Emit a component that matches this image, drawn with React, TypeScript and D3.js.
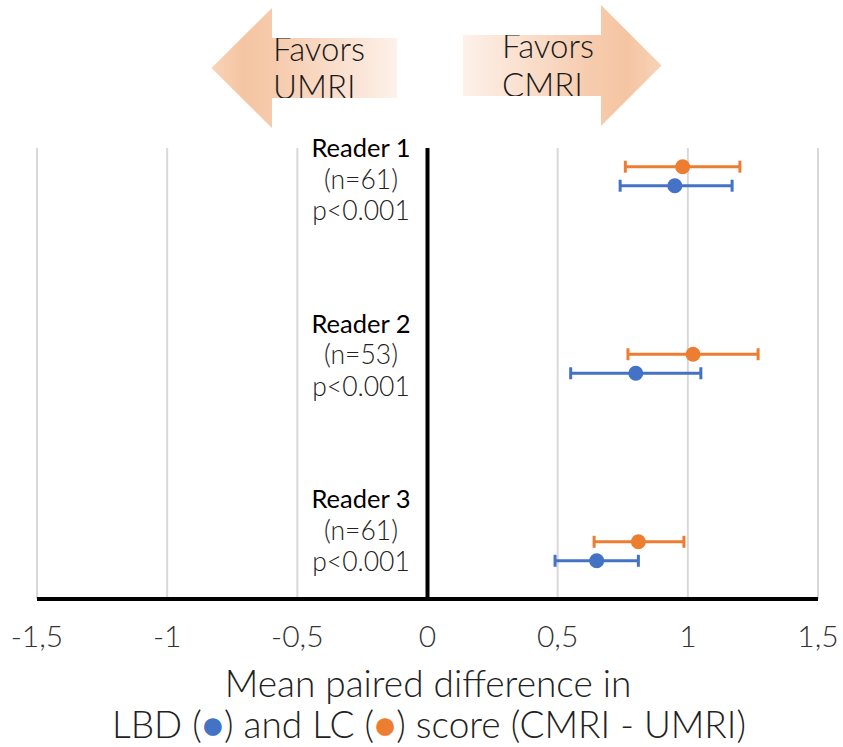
import React from "react";
import * as d3 from "d3";

// readers (rows)
const readers = ["Reader 1", "Reader 2", "Reader 3"];
const nLabels = ["(n=61)", "(n=53)", "(n=61)"];
const pLabels = ["p<0.001", "p<0.001", "p<0.001"];

// LBD score (blue)
const lbdMean = [0.95, 0.8, 0.65];
const lbdLow = [0.74, 0.55, 0.49];
const lbdHigh = [1.17, 1.05, 0.81];

// LC score (orange)
const lcMean = [0.98, 1.02, 0.81];
const lcLow = [0.76, 0.77, 0.64];
const lcHigh = [1.2, 1.27, 0.985];

const xTicks = [-1.5, -1, -0.5, 0, 0.5, 1, 1.5];

const BLUE = "#4472C4";
const ORANGE = "#ED7D31";
const FONT = "Lato, 'Open Sans', sans-serif";

const width = 843, height = 747;

export default function App() {
  const x = d3.scaleLinear().domain([-1.5, 1.5]).range([37, 818]);
  const y = d3.scalePoint<string>().domain(readers).range([176.2, 551.3]);
  const yLabel = d3.scalePoint<string>().domain(readers).range([157, 508]);
  const top = 148, bottom = 599;

  const series = [
    { name: "LC", color: ORANGE, mean: lcMean, low: lcLow, high: lcHigh, dy: -9.5 },
    { name: "LBD", color: BLUE, mean: lbdMean, low: lbdLow, high: lbdHigh, dy: 9.5 },
  ];

  const fmt = (t: number) => String(t).replace(".", ",");

  return (
    <svg width={width} height={height} style={{ position: "absolute", left: 0, top: 0, background: "#fff" }} fontFamily={FONT}>
      <defs>
        <linearGradient id="gl" x1="0" x2="1" y1="0" y2="0">
          <stop offset="0" stopColor="#F8D3B8" />
          <stop offset="0.17" stopColor="#F5C5A2" />
          <stop offset="0.35" stopColor="#F6CBAD" />
          <stop offset="1" stopColor="#FDF1EA" />
        </linearGradient>
        <linearGradient id="gr" x1="1" x2="0" y1="0" y2="0">
          <stop offset="0" stopColor="#F8D3B8" />
          <stop offset="0.17" stopColor="#F5C5A2" />
          <stop offset="0.35" stopColor="#F6CBAD" />
          <stop offset="1" stopColor="#FDF1EA" />
        </linearGradient>
        <clipPath id="cl"><rect x={272} y={38} width={125} height={60} /></clipPath>
        <clipPath id="cr"><rect x={463} y={35} width={138} height={61} /></clipPath>
      </defs>

      {/* direction arrows */}
      <polygon points="211.5,68 272,8 272,38 397,38 397,98 272,98 272,128" fill="url(#gl)" />
      <polygon points="661.5,65.5 601,5 601,35 463,35 463,96 601,96 601,126" fill="url(#gr)" />
      <g clipPath="url(#cl)" fontSize={33} fontWeight={300} fill="#1a1a1a">
        <text x={273} y={61}>Favors</text>
        <text x={273} y={99}>UMRI</text>
      </g>
      <g clipPath="url(#cr)" fontSize={33} fontWeight={300} fill="#1a1a1a">
        <text x={502} y={58}>Favors</text>
        <text x={502} y={97}>CMRI</text>
      </g>

      {/* grid */}
      {xTicks.filter(t => t !== 0).map(t => (
        <line key={t} x1={x(t)} x2={x(t)} y1={top} y2={bottom} stroke="#D9D9D9" strokeWidth={2} />
      ))}
      <line x1={x(0)} x2={x(0)} y1={top} y2={bottom} stroke="#000" strokeWidth={4} />
      <line x1={x(-1.5)} x2={x(1.5)} y1={bottom} y2={bottom} stroke="#000" strokeWidth={4} />

      {/* tick labels */}
      {xTicks.map(t => (
        <text key={t} x={x(t)} y={647} textAnchor="middle" fontSize={30} fontWeight={300} fill="#333">{fmt(t)}</text>
      ))}

      {/* reader labels */}
      {readers.map((r, i) => (
        <g key={r} textAnchor="middle" fill="#222">
          <text x={361} y={yLabel(r)} fontSize={25.5} fontWeight={400} fill="#000">{r}</text>
          <text x={361} y={(yLabel(r) as number) + 31.5} fontSize={26.5} fontWeight={300}>{nLabels[i]}</text>
          <text x={361} y={(yLabel(r) as number) + 63} fontSize={26.5} fontWeight={300}>{pLabels[i]}</text>
        </g>
      ))}

      {/* error bars and points */}
      {series.map(s => (
        <g key={s.name}>
          {readers.map((r, i) => {
            const cy = (y(r) as number) + s.dy;
            return (
              <g key={r}>
                <line x1={x(s.low[i])} x2={x(s.high[i])} y1={cy} y2={cy} stroke={s.color} strokeWidth={3} />
                <line x1={x(s.low[i])} x2={x(s.low[i])} y1={cy - 6} y2={cy + 6} stroke={s.color} strokeWidth={3} />
                <line x1={x(s.high[i])} x2={x(s.high[i])} y1={cy - 6} y2={cy + 6} stroke={s.color} strokeWidth={3} />
                <circle cx={x(s.mean[i])} cy={cy} r={7.5} fill={s.color} />
              </g>
            );
          })}
        </g>
      ))}

      {/* axis title */}
      <g textAnchor="middle" fontSize={37} fontWeight={300} fill="#222">
        <text x={428} y={697}>Mean paired difference in</text>
        <text x={429} y={738}>
          <tspan>LBD (</tspan>
          <tspan fill={BLUE}>●</tspan>
          <tspan>) and LC (</tspan>
          <tspan fill={ORANGE}>●</tspan>
          <tspan>) score (CMRI - UMRI)</tspan>
        </text>
      </g>
    </svg>
  );
}
